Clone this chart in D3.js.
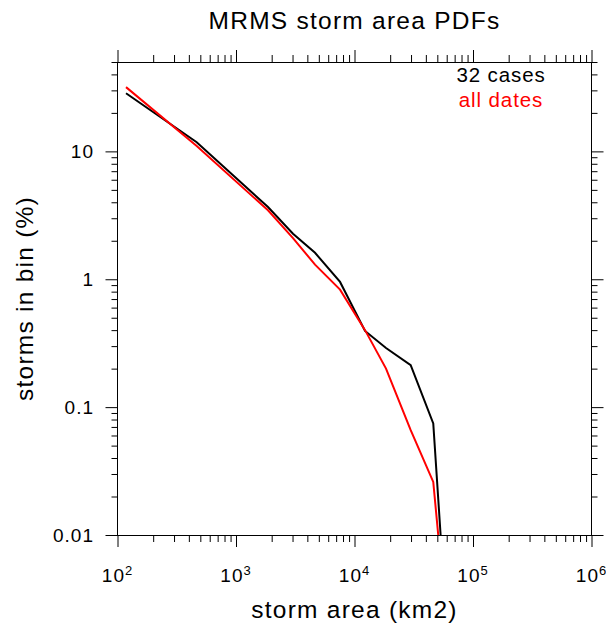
<!DOCTYPE html>
<html>
<head>
<meta charset="utf-8">
<script src="https://cdn.jsdelivr.net/npm/d3@7"></script>
<style>
  html, body { margin: 0; padding: 0; background: #fff; }
  svg { display: block; font-family: "Liberation Sans", Arial, Helvetica, sans-serif; }
</style>
</head>
<body>
<svg id="chart" width="606" height="625"></svg>
<script>
// Storm area bins (km2) and the share of storms falling in each bin (%)
const areaCases = [118, 466, 1862, 3027, 4645, 7551, 12270, 18450, 29800, 46200, 53300];
const pctCases  = [28.5, 11.8, 3.67, 2.27, 1.61, 0.953, 0.394, 0.29, 0.213, 0.0746, 0.01];

const areaAll = [118, 466, 1862, 3027, 4645, 7551, 12270, 18450, 29800, 46200, 50900];
const pctAll  = [31.8, 11.0, 3.46, 2.1, 1.30, 0.83, 0.40, 0.200, 0.066, 0.026, 0.01];

const seriesNames = ["32 cases", "all dates"];
const seriesColors = ["#000000", "#ff0000"];

const xTickExp = [2, 3, 4, 5, 6];
const yTickLabels = ["0.01", "0.1", "1", "10"];
const yTickValues = [0.01, 0.1, 1, 10];

const titleText = "MRMS storm area PDFs";
const xTitle = "storm area (km2)";
const yTitle = "storms in bin (%)";

const svg = d3.select("#chart");
const L = 117.5, R = 591.5, T = 62, B = 535;

const x = d3.scaleLog().domain([1e2, 1e6]).range([L, R]);
const y = d3.scaleLog().domain([0.01, 50]).range([B, T]);

// minor tick positions: 2..9 times each decade
const xMajor = xTickExp.map(e => Math.pow(10, e));
const xMinor = [];
xMajor.slice(0, -1).forEach(d => { for (let k = 2; k <= 9; k++) xMinor.push(d * k); });
const yMinor = [];
[0.01, 0.1, 1, 10].forEach(d => { for (let k = 2; k <= 9; k++) if (d * k <= 50) yMinor.push(d * k); });

function axisGroup(axis, transform) {
  const g = svg.append("g").attr("transform", transform).call(axis);
  g.select(".domain").remove();
  g.selectAll("line").attr("stroke", "#000").attr("stroke-width", 1);
  g.selectAll("text").remove();
  return g;
}

// bottom / top axes (ticks point outward)
axisGroup(d3.axisBottom(x).tickValues(xMajor).tickSize(12).tickSizeOuter(0), `translate(0,${B})`);
axisGroup(d3.axisBottom(x).tickValues(xMinor).tickSize(7).tickSizeOuter(0), `translate(0,${B})`);
axisGroup(d3.axisTop(x).tickValues(xMajor).tickSize(12).tickSizeOuter(0), `translate(0,${T})`);
axisGroup(d3.axisTop(x).tickValues(xMinor).tickSize(7).tickSizeOuter(0), `translate(0,${T})`);
// left / right axes
axisGroup(d3.axisLeft(y).tickValues(yTickValues).tickSize(12).tickSizeOuter(0), `translate(${L},0)`);
axisGroup(d3.axisLeft(y).tickValues(yMinor).tickSize(6).tickSizeOuter(0), `translate(${L},0)`);
axisGroup(d3.axisRight(y).tickValues(yTickValues).tickSize(12).tickSizeOuter(0), `translate(${R},0)`);
axisGroup(d3.axisRight(y).tickValues(yMinor).tickSize(6).tickSizeOuter(0), `translate(${R},0)`);

// plot frame
svg.append("rect")
  .attr("x", L).attr("y", T + 0.5)
  .attr("width", R - L).attr("height", B - T)
  .attr("fill", "none").attr("stroke", "#000").attr("stroke-width", 1);

// x tick labels as powers of ten
const xl = svg.append("g").attr("font-size", 19).attr("letter-spacing", "1px").attr("fill", "#000");
xTickExp.forEach(e => {
  const t = xl.append("text")
    .attr("x", x(Math.pow(10, e)))
    .attr("y", 582)
    .attr("text-anchor", "middle");
  t.append("tspan").text("10");
  t.append("tspan").attr("font-size", 13).attr("dy", -7).text(e);
});

// y tick labels
svg.append("g").attr("font-size", 19).attr("letter-spacing", "1px")
  .selectAll("text").data(yTickValues).join("text")
  .attr("x", 94)
  .attr("y", d => y(d))
  .attr("dy", "0.36em")
  .attr("text-anchor", "end")
  .text((d, i) => yTickLabels[i]);

// series lines
svg.append("clipPath").attr("id", "plotClip")
  .append("rect").attr("x", L).attr("y", T).attr("width", R - L).attr("height", B - T);

const line = d3.line().x(d => x(d[0])).y(d => y(d[1]));
const series = [
  d3.zip(areaCases, pctCases),
  d3.zip(areaAll, pctAll)
];
svg.append("g").attr("clip-path", "url(#plotClip)")
  .selectAll("path").data(series).join("path")
  .attr("d", line)
  .attr("fill", "none")
  .attr("stroke", (d, i) => seriesColors[i])
  .attr("stroke-width", 2)
  .attr("stroke-linejoin", "miter");

// legend text
svg.append("g").attr("font-size", 20.5).attr("letter-spacing", "0.9px")
  .selectAll("text").data(seriesNames).join("text")
  .attr("x", 501)
  .attr("y", (d, i) => 81.5 + i * 25.5)
  .attr("text-anchor", "middle")
  .attr("fill", (d, i) => seriesColors[i])
  .text(d => d);

// titles
svg.append("text")
  .attr("x", (L + R) / 2).attr("y", 28.5)
  .attr("text-anchor", "middle")
  .attr("font-size", 24.5).attr("letter-spacing", "1.25px")
  .text(titleText);

svg.append("text")
  .attr("x", (L + R) / 2).attr("y", 617.5)
  .attr("text-anchor", "middle")
  .attr("font-size", 24.5).attr("letter-spacing", "1.25px")
  .text(xTitle);

svg.append("text")
  .attr("transform", `translate(33,${(T + B) / 2}) rotate(-90)`)
  .attr("text-anchor", "middle")
  .attr("font-size", 24.5).attr("letter-spacing", "1.25px")
  .text(yTitle);
</script>
</body>
</html>
